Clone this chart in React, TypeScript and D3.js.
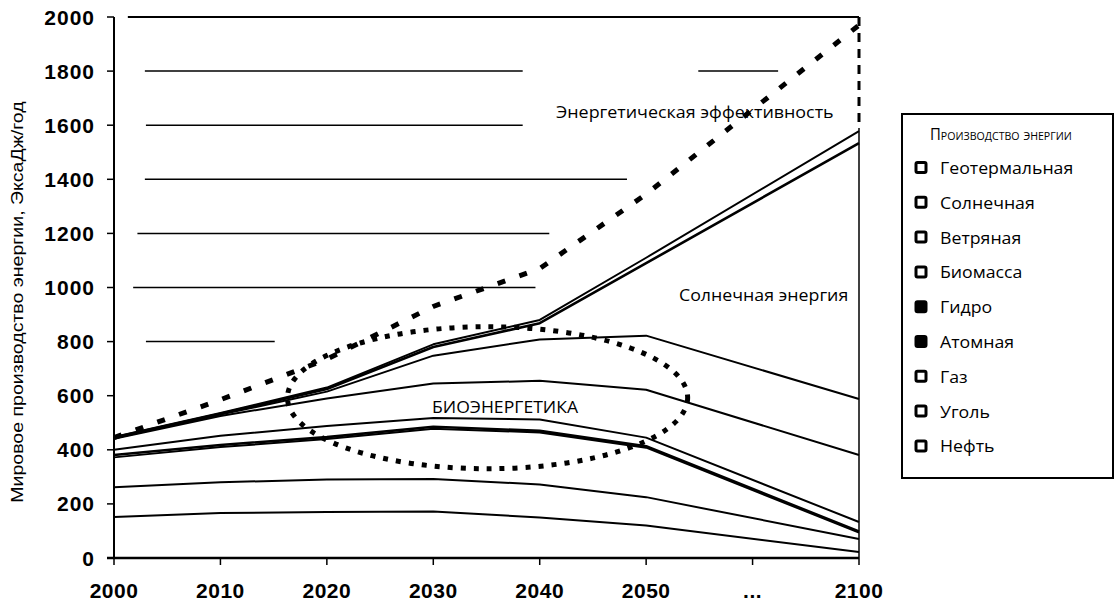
import React, { useRef, useEffect } from 'react';
import * as d3 from 'd3';

// x axis categories ("..." is a gap between 2050 and 2100)
const categories = ['2000', '2010', '2020', '2030', '2040', '2050', '...', '2100'];
const dataYears = ['2000', '2010', '2020', '2030', '2040', '2050', '2100'];
const yTicks = [0, 200, 400, 600, 800, 1000, 1200, 1400, 1600, 1800, 2000];

// production by source, EJ/year (stacked from bottom to top)
const oil = [152, 166, 170, 172, 150, 120, 22];
const coal = [110, 114, 120, 120, 122, 105, 48];
const gas = [110, 130, 150, 186, 192, 183, 24];
const nuclear = [9, 8, 7, 7, 6, 5, 4];
const hydro = [19, 34, 41, 33, 42, 32, 35];
const biomass = [41, 73, 102, 127, 143, 177, 248];
const wind = [2, 5, 25, 103, 153, 200, 207];
const solar = [2, 3, 10, 32, 60, 268, 946];
const geothermal = [2, 3, 5, 10, 12, 20, 44];

// energy efficiency (dashed line)
const efficiency = [445, 585, 735, 930, 1070, 1345, 1970];

const seriesKeys = ['oil', 'coal', 'gas', 'nuclear', 'hydro', 'biomass', 'wind', 'solar', 'geothermal'];
const seriesValues: Record<string, number[]> = { oil, coal, gas, nuclear, hydro, biomass, wind, solar, geothermal };

const legendLabels = ['Геотермальная', 'Солнечная', 'Ветряная', 'Биомасса', 'Гидро', 'Атомная', 'Газ', 'Уголь', 'Нефть'];
const legendFilled = [false, false, false, false, true, true, false, false, false];

// partially printed gridlines: [value, fromIndex, toIndex]
const gridSegments: [number, number, number][] = [
  [2000, 0.13, 7],
  [1800, 0.29, 3.84],
  [1800, 5.49, 6.24],
  [1600, 0.3, 3.84],
  [1400, 0.29, 4.82],
  [1200, 0.22, 4.09],
  [1000, 0.18, 3.96],
  [800, 0.3, 1.51],
];

const App = () => {
  const svgRef = useRef<SVGSVGElement>(null);

  useEffect(() => {
    document.body.style.margin = '0';
    const svg = d3.select(svgRef.current);
    svg.selectAll('*').remove();

    const width = 1115;
    const height = 609;
    const plot = { left: 114, right: 859, top: 17, bottom: 558 };
    const tickFont = '"Liberation Sans", Arial, sans-serif';
    const noteFont = '"Open Sans", sans-serif';

    svg.attr('width', width).attr('height', height).attr('viewBox', [0, 0, width, height]);
    svg.append('rect').attr('width', width).attr('height', height).attr('fill', '#fff');

    const x = d3.scalePoint<string>().domain(categories).range([plot.left, plot.right]);
    const step = x.step();
    const xi = (i: number) => plot.left + i * step;
    const y = d3.scaleLinear().domain([0, 2000]).range([plot.bottom, plot.top]);

    // gridlines
    const grid = svg.append('g');
    gridSegments.forEach(([v, a, b]) => {
      grid.append('line')
        .attr('x1', xi(a)).attr('x2', xi(b))
        .attr('y1', y(v)).attr('y2', y(v))
        .attr('stroke', '#000')
        .attr('stroke-width', v === 2000 ? 2 : 1.5);
    });

    // stacked series boundaries
    const rows = dataYears.map((yr, i) => {
      const r: any = { year: yr };
      seriesKeys.forEach(k => { r[k] = seriesValues[k][i]; });
      return r;
    });
    const stacked = d3.stack<any>().keys(seriesKeys)(rows);

    const line = d3.line<any>()
      .x(d => x(d.data.year) as number)
      .y(d => y(d[1]));

    svg.append('g')
      .selectAll('path')
      .data(stacked)
      .join('path')
      .attr('d', d => line(d as any))
      .attr('fill', 'none')
      .attr('stroke', '#000')
      .attr('stroke-width', d => (d.key === 'solar' || d.key === 'nuclear' ? 2.6 : 2))
      .attr('stroke-linejoin', 'round');

    // right edge of the chart
    svg.append('line')
      .attr('x1', plot.right).attr('x2', plot.right)
      .attr('y1', y(0)).attr('y2', y(1590))
      .attr('stroke', '#000').attr('stroke-width', 1.5);
    svg.append('line')
      .attr('x1', plot.right).attr('x2', plot.right)
      .attr('y1', y(2000)).attr('y2', y(1590))
      .attr('stroke', '#000').attr('stroke-width', 3)
      .attr('stroke-dasharray', '9 7');

    // energy efficiency dashed line
    const effLine = d3.line<number>()
      .x((d, i) => x(dataYears[i]) as number)
      .y(d => y(d));
    svg.append('path')
      .attr('d', effLine(efficiency))
      .attr('fill', 'none')
      .attr('stroke', '#000')
      .attr('stroke-width', 5)
      .attr('stroke-dasharray', '8 15');

    // bioenergy ellipse
    const ex1 = (x('2020') as number) - 0.37 * step;
    const ex2 = (x('2050') as number) + 0.39 * step;
    const ey1 = y(855);
    const ey2 = y(330);
    svg.append('ellipse')
      .attr('cx', (ex1 + ex2) / 2)
      .attr('cy', (ey1 + ey2) / 2)
      .attr('rx', (ex2 - ex1) / 2)
      .attr('ry', (ey2 - ey1) / 2)
      .attr('fill', 'none')
      .attr('stroke', '#000')
      .attr('stroke-width', 5)
      .attr('stroke-dasharray', '5 8');

    // Y axis
    const yAxis = svg.append('g');
    yAxis.append('line')
      .attr('x1', plot.left).attr('x2', plot.left)
      .attr('y1', plot.top).attr('y2', plot.bottom)
      .attr('stroke', '#000').attr('stroke-width', 2);
    yTicks.forEach(t => {
      yAxis.append('line')
        .attr('x1', plot.left - 7).attr('x2', plot.left)
        .attr('y1', y(t)).attr('y2', y(t))
        .attr('stroke', '#000').attr('stroke-width', 1.5);
      yAxis.append('text')
        .attr('x', 95).attr('y', y(t)).attr('dy', '0.36em')
        .attr('text-anchor', 'end')
        .style('font-family', tickFont).style('font-size', '21px').style('font-weight', 'bold')
        .style('letter-spacing', '1px')
        .text(t);
    });

    // X axis
    const xAxis = svg.append('g');
    xAxis.append('line')
      .attr('x1', plot.left - 7).attr('x2', plot.right)
      .attr('y1', plot.bottom).attr('y2', plot.bottom)
      .attr('stroke', '#000').attr('stroke-width', 2.5);
    categories.forEach(c => {
      xAxis.append('line')
        .attr('x1', x(c) as number).attr('x2', x(c) as number)
        .attr('y1', plot.bottom).attr('y2', plot.bottom + 7)
        .attr('stroke', '#000').attr('stroke-width', 1.5);
      xAxis.append('text')
        .attr('x', x(c) as number).attr('y', 598)
        .attr('text-anchor', 'middle')
        .style('font-family', tickFont).style('font-size', '21px').style('font-weight', 'bold')
        .style('letter-spacing', '0.5px')
        .text(c);
    });

    // Y axis title
    svg.append('text')
      .attr('transform', 'translate(23,302) rotate(-90) scale(1.13,1)')
      .attr('text-anchor', 'middle')
      .style('font-family', tickFont).style('font-size', '17.3px')
      .text('Мировое производство энергии, ЭксаДж/год');

    // annotations (text a little wider than the font, as in the scan)
    const note = (tx: number, ty: number, s: string, sx: number, size = 17) =>
      svg.append('text')
        .attr('transform', `translate(${tx},${ty}) scale(${sx},1)`)
        .style('font-family', noteFont).style('font-size', `${size}px`)
        .text(s);
    note(556, 118, 'Энергетическая эффективность', 1.053);
    note(679, 301, 'Солнечная энергия', 1.046);
    note(432, 413, 'БИОЭНЕРГЕТИКА', 1.035);

    // legend
    const lg = svg.append('g');
    lg.append('rect')
      .attr('x', 902).attr('y', 114)
      .attr('width', 211).attr('height', 364)
      .attr('fill', '#fff').attr('stroke', '#000').attr('stroke-width', 2);
    lg.append('text')
      .attr('transform', 'translate(930,140) scale(0.93,1)')
      .style('font-family', noteFont).style('font-size', '16px')
      .style('font-variant', 'small-caps')
      .text('Производство энергии');
    legendLabels.forEach((lab, i) => {
      const cy = 168 + i * 34.8;
      lg.append('rect')
        .attr('x', 916).attr('y', cy - 5.5)
        .attr('width', 10).attr('height', 10)
        .attr('rx', 1.5)
        .attr('fill', legendFilled[i] ? '#000' : '#fff')
        .attr('stroke', '#000').attr('stroke-width', 3);
      lg.append('text')
        .attr('transform', `translate(940,${cy + 6}) scale(1.043,1)`)
        .style('font-family', noteFont).style('font-size', '17px')
        .text(lab);
    });
  }, []);

  return (
    <div>
      <svg ref={svgRef} style={{ display: 'block' }}></svg>
    </div>
  );
};

export default App;
